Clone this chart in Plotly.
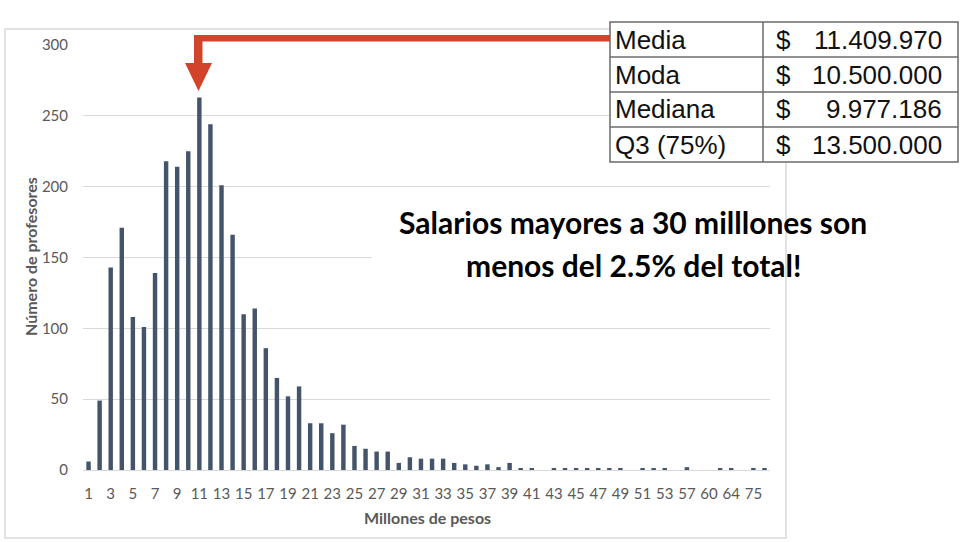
import plotly.graph_objects as go

# ---- data ----
categories = [str(i) for i in range(1, 54)] + ["55", "57", "58", "60", "62", "64", "70", "75", "80"]
profesores = [6, 49, 143, 171, 108, 101, 139, 218, 214, 225,
              263, 244, 201, 166, 110, 114, 86, 65, 52, 59,
              33, 33, 26, 32, 17, 15, 13, 13, 5, 9,
              8, 8, 8, 5, 4, 3, 4, 2, 5, 1,
              1, 0, 1, 1, 1, 1, 1, 1, 1, 0,
              1, 1, 1,
              0, 2, 0, 0, 1, 1, 0, 1, 1]
tick_labels = categories[::2]

stat_labels = ["Media", "Moda", "Mediana", "Q3 (75%)"]
stat_values = ["11.409.970", "10.500.000", "9.977.186", "13.500.000"]

note_lines = ["Salarios mayores a 30 milllones son", "menos del 2.5% del total!"]

# ---- layout geometry (pixels) ----
W, H = 960, 542
L, R, T, B = 83, 770, 45, 470
PW, PH = R - L, B - T


def px(x):
    return (x - L) / PW


def py(y):
    return (B - y) / PH


fig = go.Figure()
fig.add_trace(go.Bar(x=categories, y=profesores, marker_color="#44546A",
                     marker_line_width=0, hoverinfo="x+y"))

shapes = []
# outer chart frame
shapes.append(dict(type="rect", xref="paper", yref="paper",
                   x0=px(5), x1=px(786), y0=py(538), y1=py(29),
                   line=dict(color="#d9d9d9", width=1.5), layer="below"))
# white box behind the note
shapes.append(dict(type="rect", xref="paper", yref="paper",
                   x0=px(372), x1=px(784), y0=py(292), y1=py(196),
                   line=dict(width=0), fillcolor="white", layer="above"))
# red arrow
pts = [(612, 35), (194, 35), (194, 63), (185, 63), (198.5, 91), (212, 63),
       (202.5, 63), (202.5, 41.5), (612, 41.5)]
path = "M " + " L ".join(f"{px(x):.5f},{py(y):.5f}" for x, y in pts) + " Z"
shapes.append(dict(type="path", xref="paper", yref="paper", path=path,
                   fillcolor="#D2432C", line=dict(width=0), layer="above"))
# table
tx0, tx1, ty0, ty1, tcol = 610, 958, 22, 162, 763
shapes.append(dict(type="rect", xref="paper", yref="paper",
                   x0=px(tx0), x1=px(tx1), y0=py(ty1), y1=py(ty0),
                   fillcolor="white", line=dict(color="#6b6b6b", width=1.5), layer="above"))
shapes.append(dict(type="line", xref="paper", yref="paper",
                   x0=px(tcol), x1=px(tcol), y0=py(ty1), y1=py(ty0),
                   line=dict(color="#6b6b6b", width=1.5), layer="above"))
rh = (ty1 - ty0) / len(stat_labels)
for i in range(1, len(stat_labels)):
    yy = ty0 + i * rh
    shapes.append(dict(type="line", xref="paper", yref="paper",
                       x0=px(tx0), x1=px(tx1), y0=py(yy), y1=py(yy),
                       line=dict(color="#6b6b6b", width=1.5), layer="above"))

annotations = []
tfont = dict(family="Liberation Sans, Arial", size=26, color="#111111")
for i, (lab, val) in enumerate(zip(stat_labels, stat_values)):
    yc = ty0 + (i + 0.5) * rh
    annotations.append(dict(xref="paper", yref="paper", x=px(613), y=py(yc),
                            text=lab, showarrow=False, xanchor="left", yanchor="middle", font=tfont))
    annotations.append(dict(xref="paper", yref="paper", x=px(784), y=py(yc),
                            text="$", showarrow=False, xanchor="center", yanchor="middle", font=tfont))
    annotations.append(dict(xref="paper", yref="paper", x=px(944), y=py(yc),
                            text=val, showarrow=False, xanchor="right", yanchor="middle", font=tfont))

nfont = dict(family="Lato", size=30, color="#000000")
for i, line in enumerate(note_lines):
    annotations.append(dict(xref="paper", yref="paper", x=px(633), y=py(222 + 43 * i),
                            text=f"<b>{line}</b>", showarrow=False,
                            xanchor="center", yanchor="middle", font=nfont))

# y-axis title
annotations.append(dict(xref="paper", yref="paper", x=px(30), y=py(257),
                        text="<b>Número de profesores</b>", showarrow=False, textangle=-90,
                        xanchor="center", yanchor="middle",
                        font=dict(family="Lato", size=16, color="#595959")))
# x-axis title
annotations.append(dict(xref="paper", yref="paper", x=px(427), y=py(517),
                        text="<b>Millones de pesos</b>", showarrow=False,
                        xanchor="center", yanchor="middle",
                        font=dict(family="Lato", size=16, color="#595959")))

fig.update_layout(
    width=W, height=H,
    margin=dict(l=L, r=W - R, t=T, b=H - B, pad=0),
    paper_bgcolor="white", plot_bgcolor="white",
    showlegend=False,
    bargap=0.6,
    shapes=shapes,
    annotations=annotations,
    font=dict(family="Lato", color="#595959"),
    xaxis=dict(type="category", categoryorder="array", categoryarray=categories,
               tickmode="array", tickvals=tick_labels, ticktext=tick_labels,
               range=[-0.5, len(categories) - 0.5],
               showgrid=False, showline=True, linecolor="#d9d9d9", linewidth=1,
               ticks="", tickangle=0, ticklabelstandoff=10,
               tickfont=dict(family="Lato", size=15, color="#595959"),
               fixedrange=True),
    yaxis=dict(range=[0, 300], tickvals=[0, 50, 100, 150, 200, 250, 300],
               showgrid=True, gridcolor="#d9d9d9", gridwidth=1,
               zeroline=False, showline=False, ticks="", ticklabelstandoff=14,
               tickfont=dict(family="Lato", size=15, color="#595959"),
               fixedrange=True),
)

fig.write_html("out.html", config={"displayModeBar": False},
               post_script="document.body.style.margin='0';document.body.style.overflow='hidden';")
